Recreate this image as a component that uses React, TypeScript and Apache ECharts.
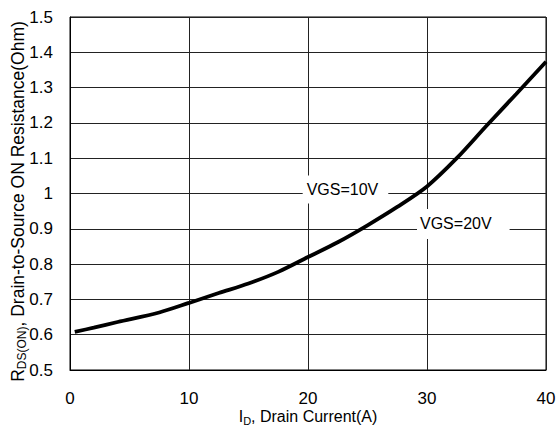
import React, { useEffect, useRef } from "react";
import * as echarts from "echarts";

const currentA = [0.4, 2, 4, 7.5, 10, 12.5, 15, 17.5, 20, 22.5, 25, 27.5, 30, 32.5, 35, 37.5, 40];
const resistanceOhm = [0.608, 0.62, 0.636, 0.663, 0.69, 0.718, 0.745, 0.778, 0.82, 0.862, 0.91, 0.962, 1.02, 1.1, 1.192, 1.282, 1.373];
const xTicks = [0, 10, 20, 30, 40];
const yTicks = [0.5, 0.6, 0.7, 0.8, 0.9, 1, 1.1, 1.2, 1.3, 1.4, 1.5];
const annotations = [
  { text: "VGS=10V", x: 23.15, y: 1.011 },
  { text: "VGS=20V", x: 33.05, y: 0.9136 },
];

const FONT = "'Liberation Sans', Arial, sans-serif";

export default function App() {
  const ref = useRef<HTMLDivElement>(null);
  useEffect(() => {
    document.body.style.margin = "0";
    document.body.style.overflow = "hidden";
    if (!ref.current) return;
    const chart = echarts.init(ref.current, undefined, { renderer: "svg" });
    const data = currentA.map((x, i) => [x, resistanceOhm[i]]);
    chart.setOption({
      animation: false,
      backgroundColor: "#fff",
      textStyle: { fontFamily: FONT },
      grid: {
        left: 70,
        right: 10,
        top: 17,
        bottom: 57,
        containLabel: false,
        outerBoundsMode: "none",
        show: true,
        borderColor: "#000",
        borderWidth: 1,
        backgroundColor: "#fff",
      },
      xAxis: {
        type: "value",
        min: xTicks[0],
        max: xTicks[xTicks.length - 1],
        interval: 10,
        axisLine: { show: true, lineStyle: { color: "#000", width: 1 } },
        axisTick: { show: false },
        splitLine: { show: true, lineStyle: { color: "#222", width: 1 } },
        axisLabel: {
          margin: 20,
          fontSize: 17,
          color: "#000",
          fontFamily: FONT,
        },
        name: "{a|I}{sub|D}{a|, Drain Current(A)}",
        nameLocation: "middle",
        nameGap: 37,
        nameMoveOverlap: false,
        nameTextStyle: {
          rich: {
            a: { fontSize: 16, color: "#000", fontFamily: FONT },
            sub: { fontSize: 11, color: "#000", fontFamily: FONT, verticalAlign: "bottom", padding: [8, 0, 0, 0] },
          },
        },
      },
      yAxis: {
        type: "value",
        min: yTicks[0],
        max: yTicks[yTicks.length - 1],
        interval: 0.1,
        axisLine: { show: true, lineStyle: { color: "#000", width: 1 } },
        axisTick: { show: false },
        splitLine: { show: true, lineStyle: { color: "#222", width: 1 } },
        axisLabel: {
          margin: 17,
          fontSize: 17,
          color: "#000",
          fontFamily: FONT,
          formatter: (v: number) => String(Number(v.toFixed(1))),
        },
        name: "{a|R}{sub|DS(ON)}{a|, Drain-to-Source ON Resistance(Ohm)}",
        nameLocation: "middle",
        nameGap: 42,
        nameMoveOverlap: false,
        nameTextStyle: {
          padding: [0, 16, 0, 0],
          rich: {
            a: { fontSize: 17.5, color: "#000", fontFamily: FONT },
            sub: { fontSize: 12, color: "#000", fontFamily: FONT, verticalAlign: "bottom", padding: [8, 0, 0, 0] },
          },
        },
      },
      series: [
        {
          type: "line",
          data,
          smooth: 0.3,
          showSymbol: false,
          symbol: "none",
          lineStyle: { color: "#000", width: 3.8 },
          markPoint: {
            symbol: "rect",
            symbolSize: 0,
            silent: true,
            data: annotations.map((a) => ({
              coord: [a.x, a.y],
              value: a.text,
              label: {
                show: true,
                position: "inside",
                formatter: a.text,
                color: "#000",
                fontSize: 16,
                fontFamily: FONT,
                backgroundColor: "#fff",
                padding: a.text === "VGS=10V" ? [6, 10, 6, 4] : [7, 18, 7, 3],
              },
            })),
          },
        },
      ],
    });
    return () => chart.dispose();
  }, []);
  return <div ref={ref} style={{ width: 556, height: 427 }} />;
}
